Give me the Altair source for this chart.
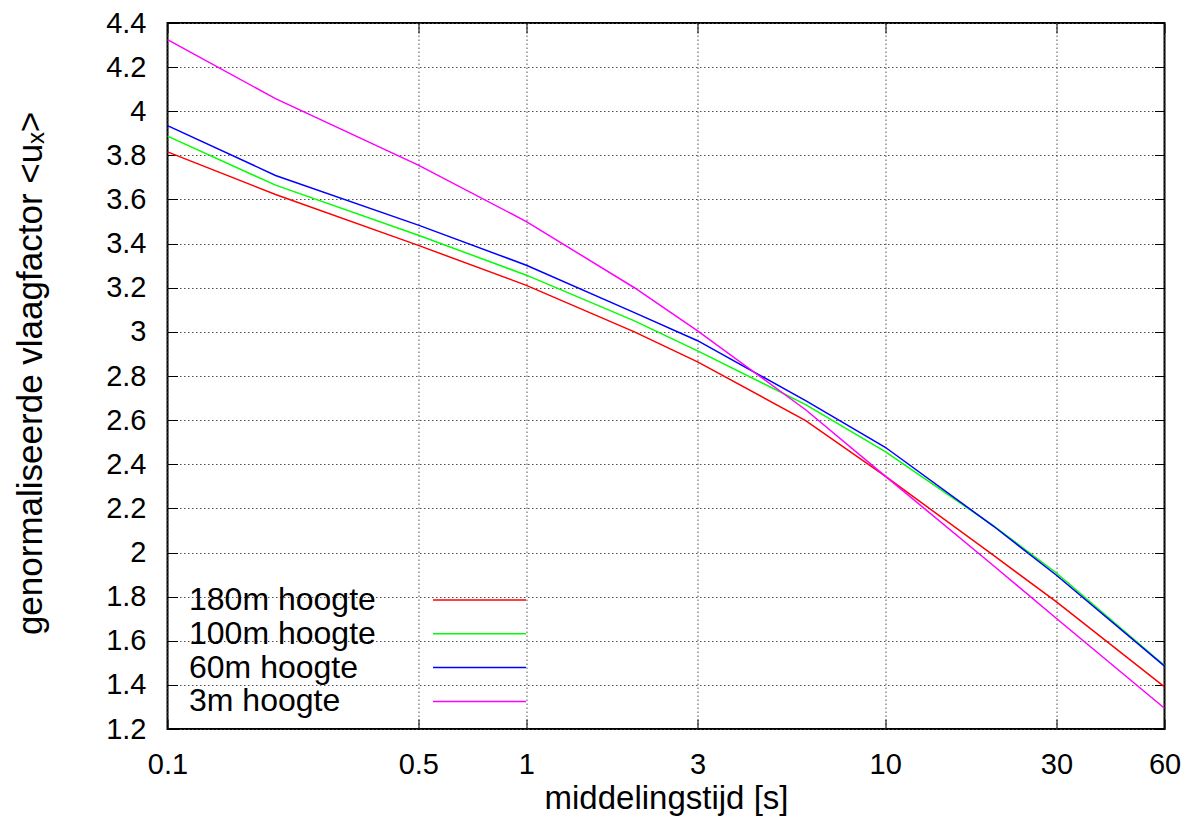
import altair as alt
import pandas as pd

# ---- data ----
times = [0.1, 0.2, 0.5, 1, 2, 3, 6, 10, 20, 30, 60]
h180 = [3.816, 3.623, 3.392, 3.211, 3.000, 2.864, 2.598, 2.346, 1.988, 1.776, 1.391]
h100 = [3.887, 3.665, 3.438, 3.257, 3.050, 2.914, 2.670, 2.457, 2.122, 1.907, 1.488]
h60 = [3.935, 3.709, 3.484, 3.302, 3.087, 2.960, 2.688, 2.477, 2.120, 1.897, 1.485]
h3 = [4.325, 4.057, 3.756, 3.500, 3.200, 3.005, 2.647, 2.346, 1.941, 1.701, 1.294]

series_names = ["180m hoogte", "100m hoogte", "60m hoogte", "3m hoogte"]
series_colors = ["#ff0000", "#00ff00", "#0000ff", "#ff00ff"]
x_ticks = [0.1, 0.5, 1, 3, 10, 30, 60]
y_ticks = [1.2, 1.4, 1.6, 1.8, 2.0, 2.2, 2.4, 2.6, 2.8, 3.0, 3.2, 3.4, 3.6, 3.8, 4.0, 4.2, 4.4]

rows = []
for name, vals in zip(series_names, [h180, h100, h60, h3]):
    for t, v in zip(times, vals):
        rows.append({"t": t, "v": v, "serie": name})
df = pd.DataFrame(rows)

W, H = 997, 706
TICK = 10
FONT = "Liberation Sans"

xscale = alt.Scale(type="log", domain=[0.1, 60], nice=False)
yscale = alt.Scale(domain=[1.2, 4.4], nice=False, zero=False)

# key sample line: drawn to the right of the label (gnuplot style)
KEY_PATH = "M52,0H70.6"

main = alt.Chart(df).mark_line(strokeWidth=1.5, clip=True).encode(
    x=alt.X(
        "t:Q", scale=xscale,
        axis=alt.Axis(
            orient="bottom", values=x_ticks, format="~g", offset=-TICK,
            tickSize=TICK, domain=False, grid=True,
            labelPadding=44, labelBaseline="alphabetic", labelFontSize=29,
            title="middelingstijd [s]", titleX=W / 2, titleY=79 + TICK,
            titleBaseline="alphabetic", titleAlign="center", titleFontSize=33,
        ),
    ),
    y=alt.Y(
        "v:Q", scale=yscale,
        axis=alt.Axis(
            orient="left", values=y_ticks, format="~g", offset=-TICK,
            tickSize=TICK, domain=False, grid=True,
            labelPadding=21.5, labelBaseline="middle", labelFontSize=29,
            title="genormaliseerde vlaagfactor <uₓ>", titleX=-126.5 - TICK,
            titleY=H / 2 - 3, titleAngle=270, titleBaseline="alphabetic",
            titleAlign="center", titleFontSize=35,
        ),
    ),
    color=alt.Color(
        "serie:N",
        scale=alt.Scale(domain=series_names, range=series_colors),
        sort=series_names,
        legend=alt.Legend(
            title=None, orient="none", legendX=-10.5, legendY=561,
            symbolType=KEY_PATH, symbolSize=100, symbolStrokeWidth=1.5,
            symbolOffset=0, labelOffset=0, labelFontSize=32,
            labelFont=FONT, labelColor="black", labelLimit=0,
            rowPadding=1.8, padding=0,
        ),
    ),
)

mirror = alt.Chart(df).mark_line(opacity=0).encode(
    x=alt.X(
        "t:Q", scale=xscale,
        axis=alt.Axis(orient="top", values=x_ticks, offset=-TICK, tickSize=TICK,
                      domain=False, grid=False, labels=False, title=None),
    ),
    y=alt.Y(
        "v:Q", scale=yscale,
        axis=alt.Axis(orient="right", values=y_ticks, offset=-TICK, tickSize=TICK,
                      domain=False, grid=False, labels=False, title=None),
    ),
    detail="serie:N",
)

chart = (
    alt.layer(main, mirror)
    .resolve_axis(x="independent", y="independent")
    .properties(
        width=W, height=H,
        autosize=alt.AutoSizeParams(type="none"),
        padding={"left": 159.5, "top": 15, "right": 20, "bottom": 90},
        background="white",
    )
    .configure_view(stroke="black", strokeWidth=2)
    .configure_axis(
        labelFont=FONT, titleFont=FONT, labelColor="black", titleColor="black",
        titleFontWeight="normal", tickColor="black", tickWidth=1,
        gridColor="#505050", gridDash=[1.5, 2.5], gridWidth=1, gridOpacity=1,
        labelOverlap=False, labelFlush=False,
    )
)

chart.save("out.html", embed_options={"renderer": "svg", "actions": False})
